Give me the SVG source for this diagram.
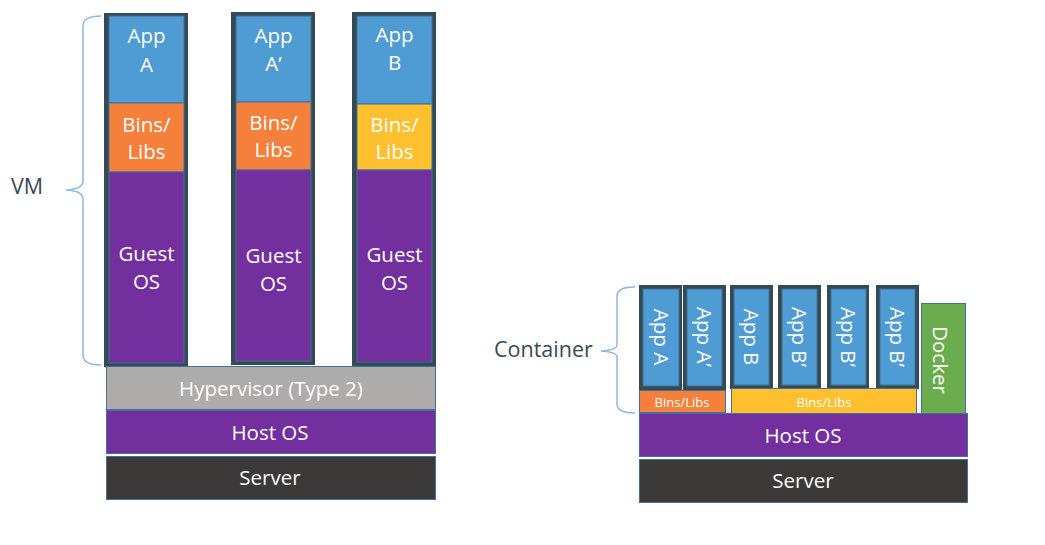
<svg xmlns="http://www.w3.org/2000/svg" width="1045" height="545" viewBox="0 0 1045 545">
  <style>
    text { font-family: "Open Sans", "Noto Sans", "Liberation Sans", sans-serif; fill: #FFFFFF; text-anchor: middle; }
    .t20 { font-size: 20.5px; }
    .t13 { font-size: 13px; }
    .lbl { fill: #3A4A55; font-size: 21.5px; text-anchor: start; }
    .frame { fill: #354A53; }
    .app { fill: #4F9BD3; stroke: #41719C; stroke-width: 1; }
    .bins { fill: #F4803B; stroke: #41719C; stroke-width: 1; }
    .bins2 { fill: #FFC02F; stroke: #41719C; stroke-width: 1; }
    .os { fill: #722F9D; stroke: #41719C; stroke-width: 1; }
    .hyp { fill: #AEABAB; stroke: #41719C; stroke-width: 1; }
    .srv { fill: #3B3A39; stroke: #41719C; stroke-width: 1; }
    .dock { fill: #6AAC4E; stroke: #41719C; stroke-width: 1; }
    .brace { fill: none; stroke: #8DB8E2; stroke-width: 1.5; }
  </style>

  <!-- VM side: three virtual machine stacks -->
  <g id="vm-a">
    <rect class="frame" x="104" y="13" width="84" height="354"/>
    <rect class="app" x="109" y="16" width="75" height="87"/>
    <rect class="bins" x="109" y="103" width="75" height="69"/>
    <rect class="os" x="109" y="172" width="75" height="191"/>
    <text class="t20" x="146.5" y="43">App</text>
    <text class="t20" x="146.5" y="72">A</text>
    <text class="t20" x="146.5" y="132">Bins/</text>
    <text class="t20" x="146.5" y="159">Libs</text>
    <text class="t20" x="146.5" y="261">Guest</text>
    <text class="t20" x="146.5" y="289">OS</text>
  </g>

  <g id="vm-a2">
    <rect class="frame" x="231" y="12" width="84" height="353"/>
    <rect class="app" x="236" y="16" width="75" height="86"/>
    <rect class="bins" x="236" y="102" width="75" height="68"/>
    <rect class="os" x="236" y="170" width="75" height="191"/>
    <text class="t20" x="273.5" y="43">App</text>
    <text class="t20" x="273.5" y="71">A’</text>
    <text class="t20" x="273.5" y="130">Bins/</text>
    <text class="t20" x="273.5" y="157">Libs</text>
    <text class="t20" x="273.5" y="263">Guest</text>
    <text class="t20" x="273.5" y="291">OS</text>
  </g>

  <g id="vm-b">
    <rect class="frame" x="352" y="12" width="84" height="354"/>
    <rect class="app" x="357" y="16" width="75" height="88"/>
    <rect class="bins2" x="357" y="104" width="75" height="66"/>
    <rect class="os" x="357" y="170" width="75" height="192"/>
    <text class="t20" x="394.5" y="42">App</text>
    <text class="t20" x="394.5" y="70">B</text>
    <text class="t20" x="394.5" y="132">Bins/</text>
    <text class="t20" x="394.5" y="159">Libs</text>
    <text class="t20" x="394.5" y="262">Guest</text>
    <text class="t20" x="394.5" y="290">OS</text>
  </g>

  <g id="hypervisor">
    <rect class="hyp" x="106.5" y="366.5" width="329" height="43"/>
    <text class="t20" x="271" y="396">Hypervisor (Type 2)</text>
  </g>

  <g id="vm-host-os">
    <rect class="os" x="106.5" y="410.5" width="329" height="43"/>
    <text class="t20" x="270" y="440">Host OS</text>
  </g>

  <g id="vm-server">
    <rect class="srv" x="106.5" y="456.5" width="329" height="43"/>
    <text class="t20" x="270" y="485">Server</text>
  </g>

  <!-- Container side -->
  <g id="ct-app-a">
    <rect class="frame" x="639" y="285" width="43" height="105"/>
    <rect class="app" x="643" y="289" width="36" height="97"/>
    <text class="t20" transform="translate(661,337) rotate(90)" x="0" y="7.5">App A</text>
  </g>
  <g id="ct-app-a2">
    <rect class="frame" x="683" y="285" width="43" height="105"/>
    <rect class="app" x="687" y="289" width="35" height="97"/>
    <text class="t20" transform="translate(704.5,337) rotate(90)" x="0" y="7.5">App A’</text>
  </g>
  <g id="ct-app-b">
    <rect class="frame" x="730" y="285" width="43" height="104"/>
    <rect class="app" x="734" y="289" width="35" height="96"/>
    <text class="t20" transform="translate(751.5,337) rotate(90)" x="0" y="7.5">App B</text>
  </g>
  <g id="ct-app-b2-1">
    <rect class="frame" x="778" y="285" width="43" height="104"/>
    <rect class="app" x="782" y="289" width="35" height="96"/>
    <text class="t20" transform="translate(799.5,337) rotate(90)" x="0" y="7.5">App B’</text>
  </g>
  <g id="ct-app-b2-2">
    <rect class="frame" x="827" y="285" width="42" height="104"/>
    <rect class="app" x="831" y="289" width="35" height="96"/>
    <text class="t20" transform="translate(848.5,337) rotate(90)" x="0" y="7.5">App B’</text>
  </g>
  <g id="ct-app-b2-3">
    <rect class="frame" x="876" y="285" width="43" height="104"/>
    <rect class="app" x="880" y="289" width="35" height="96"/>
    <text class="t20" transform="translate(897.5,337) rotate(90)" x="0" y="7.5">App B’</text>
  </g>

  <g id="ct-bins-a">
    <rect class="bins" x="639.5" y="390.5" width="86" height="22"/>
    <text class="t13" x="682" y="407">Bins/Libs</text>
  </g>
  <g id="ct-bins-b">
    <rect class="bins2" x="731.5" y="388.5" width="185" height="26"/>
    <text class="t13" x="824" y="407">Bins/Libs</text>
  </g>

  <g id="docker">
    <rect class="dock" x="921.5" y="303.5" width="44" height="110"/>
    <text class="t20" transform="translate(940,360) rotate(90)" x="0" y="7">Docker</text>
  </g>

  <g id="ct-host-os">
    <rect class="os" x="639.5" y="413.5" width="328" height="43"/>
    <text class="t20" x="803" y="443">Host OS</text>
  </g>

  <g id="ct-server">
    <rect class="srv" x="639.5" y="459.5" width="328" height="43"/>
    <text class="t20" x="803" y="488">Server</text>
  </g>

  <!-- Braces grouping the stacks, with their labels -->
  <g id="connectors">
    <path class="brace" d="M101,16 Q83,16 83,26 L83,181 Q83,189 66,190 Q83,191 83,199 L83,355 Q83,365 101,365"/>
    <path class="brace" d="M635,287 Q617,287 617,296 L617,345 Q617,350 601,351 Q617,352 617,357 L617,404 Q617,413 635,413"/>
  </g>

  <g id="label-vm">
    <text class="lbl" x="11" y="194">VM</text>
  </g>
  <g id="label-container">
    <text class="lbl" x="494" y="357">Container</text>
  </g>
</svg>
